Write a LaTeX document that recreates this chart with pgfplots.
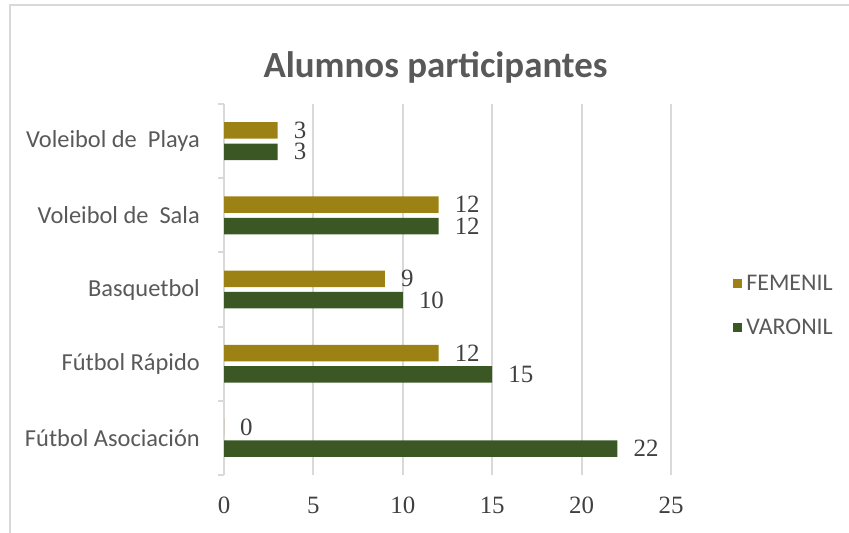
\documentclass[border=0pt]{standalone}
\usepackage{pgfplots}
\pgfplotsset{compat=1.18}
\usepackage{fontspec}
\setmainfont{Carlito}
\newfontfamily\numfont{Liberation Serif}
\definecolor{fem}{HTML}{9C8214}
\definecolor{var}{HTML}{3A5724}
\definecolor{gridc}{HTML}{D9D9D9}
\definecolor{txt}{HTML}{595959}
\definecolor{num}{HTML}{404040}
\begin{document}
\begin{tikzpicture}[x=1bp,y=1bp]
\path[use as bounding box] (0,0) rectangle (849,-533);
\draw[gridc, line width=1.5bp] (10,-533) -- (10,-5) -- (849,-5);
\node[anchor=base, text=txt, font=\fontsize{37}{44}\selectfont\bfseries] at (435.5,-78) {Alumnos participantes};
\begin{axis}[
  /pgf/number format/assume math mode=true,
  at={(224bp,-104bp)}, anchor=north west,
  width=447bp, height=371bp, scale only axis,
  xmin=0, xmax=25, ymin=-0.5, ymax=4.5,
  xbar, bar width=16.5bp, clip=false,
  xtick={0,5,...,25},
  ytick={0,1,2,3,4},
  yticklabels={Fútbol Asociación, Fútbol Rápido, Basquetbol, Voleibol de\ \ Sala, Voleibol de\ \ Playa},
  separate axis lines,
  axis x line*=bottom, axis y line*=left,
  x axis line style={draw=none},
  y axis line style={draw=gridc, line width=2bp},
  xmajorgrids, major grid style={draw=gridc, line width=2bp},
  major tick length=0pt,
  tick style={draw=none},
  extra y ticks={-0.5,0.5,1.5,2.5,3.5,4.5},
  extra y tick labels={},
  extra y tick style={tick style={draw=gridc, line width=2bp}, major tick length=6bp, tick align=outside},
  xticklabel style={font=\fontsize{25}{30}\selectfont\numfont, text=num, inner sep=0pt, anchor=north, yshift=-22bp},
  yticklabel style={font=\fontsize{24.5}{29}\selectfont, text=txt, inner sep=0pt, anchor=east, xshift=-24bp},
  nodes near coords,
  nodes near coords style={font=\fontsize{25}{30}\selectfont\numfont, text=num, anchor=west, inner sep=0pt, xshift=16bp},
  legend style={draw=none, fill=none, at={(1.138,0.458)}, anchor=west, inner sep=0pt,
    font=\fontsize{24}{29}\selectfont, text=txt, row sep=18bp, nodes={inner sep=4.5bp}},
  legend cell align=left,
]
\addplot[fill=fem, draw=none, bar shift=10.7bp,
  legend image code/.code={\fill[fem] (0bp,-4.5bp) rectangle (9bp,4.5bp);}]
  coordinates {(0,0) (12,1) (9,2) (12,3) (3,4)};
\addlegendentry{FEMENIL}
\addplot[fill=var, draw=none, bar shift=-10.7bp,
  legend image code/.code={\fill[var] (0bp,-4.5bp) rectangle (9bp,4.5bp);}]
  coordinates {(22,0) (15,1) (10,2) (12,3) (3,4)};
\addlegendentry{VARONIL}
\end{axis}
\end{tikzpicture}
\end{document}
